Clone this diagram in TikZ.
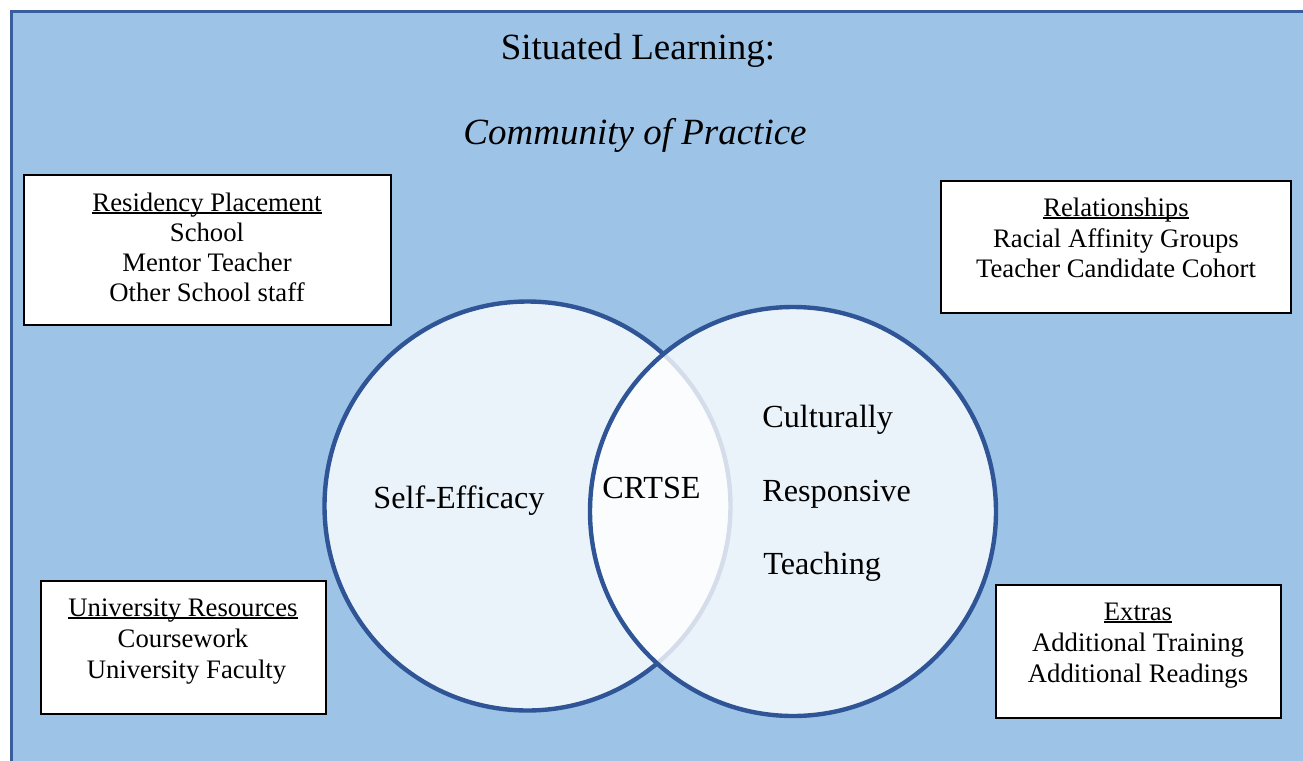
\documentclass[tikz,border=0pt]{standalone}
\usepackage{fontspec}
\setmainfont{Liberation Serif}
\usetikzlibrary{shapes.geometric}
\definecolor{bgblue}{HTML}{9DC3E6}
\definecolor{ringblue}{HTML}{2F5597}
\definecolor{frameblue}{HTML}{3A5D9C}
\newcommand\myul[1]{\setbox0\hbox{#1}\rlap{\rule[-1.1pt]{\wd0}{0.65pt}}\box0}
\tikzset{
  venn/.style={ellipse, draw=ringblue, line width=2.2pt, fill=white, fill opacity=0.8, draw opacity=1,
               inner sep=0pt, outer sep=0pt, minimum width=203pt, minimum height=204.5pt},
  infobox/.style={draw=black, line width=1pt, fill=white},
  boxtext/.style={font=\fontsize{13.35}{15}\selectfont, anchor=base, inner sep=0pt},
  titletext/.style={font=\fontsize{18.5}{22}\selectfont, anchor=base, inner sep=0pt},
  venntext/.style={font=\fontsize{16.1}{19}\selectfont, inner sep=0pt},
}
\begin{document}
\begin{tikzpicture}[x=0.5pt,y=-0.5pt]
\useasboundingbox (0,0) rectangle (1303,761);
\fill[white] (0,0) rectangle (1303,761);
\draw[frameblue, line width=1.4pt, fill=bgblue] (11.5,11.5) rectangle (1330,790);

% titles
\node[titletext] (t1) at (638,59) {Situated Learning:};
\node[titletext, font=\fontsize{18.5}{22}\selectfont\itshape] (t2) at (635,144) {Community of Practice};

% boxes
\draw[infobox] (24,174.5) rectangle (390.5,325);
\node[boxtext] (rp1) at (207,211.5) {\myul{Residency Placement}};
\node[boxtext] (rp2) at (207,241.5) {School};
\node[boxtext] (rp3) at (207,271.5) {Mentor Teacher};
\node[boxtext] (rp4) at (207,301.5) {Other School staff};

\draw[infobox] (940.5,180.5) rectangle (1291,313);
\node[boxtext] (re1) at (1116,216.5) {\myul{Relationships}};
\node[boxtext] (re2) at (1116,247) {Racial Affinity Groups};
\node[boxtext] (re3) at (1116,277) {Teacher Candidate Cohort};

\draw[infobox] (41,581) rectangle (326,714);
\node[boxtext] (ur1) at (183,616.5) {\myul{University Resources}};
\node[boxtext] (ur2) at (183,647.5) {Coursework};
\node[boxtext] (ur3) at (186.5,678) {University Faculty};

\draw[infobox] (995.5,585) rectangle (1281,718);
\node[boxtext] (ex1) at (1138,620.5) {\myul{Extras}};
\node[boxtext] (ex2) at (1138,651.5) {Additional Training};
\node[boxtext] (ex3) at (1138,682) {Additional Readings};

% venn circles
\node[venn] (left) at (527.5,506) {};
\node[venn] (right) at (793,511.5) {};

\node[venntext, anchor=base] (se) at (459,508) {Self-Efficacy};
\node[venntext, anchor=base] (cr) at (651.5,498) {CRTSE};
\node[venntext, anchor=base west] (c1) at (762,427) {Culturally};
\node[venntext, anchor=base west] (c2) at (762,501) {Responsive};
\node[venntext, anchor=base west] (c3) at (763,574) {Teaching};
\end{tikzpicture}
\end{document}
